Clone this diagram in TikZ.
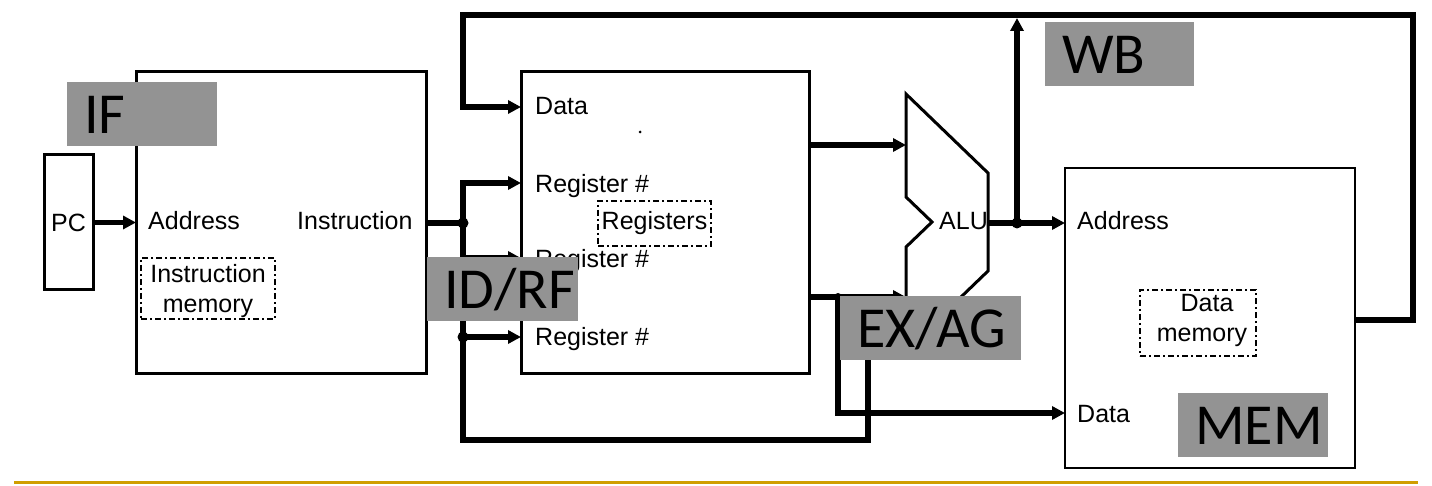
\documentclass[tikz,border=0pt]{standalone}
\usepackage{fontspec}
\setmainfont{Liberation Sans}
\newfontfamily\phasefont{Carlito}
\usetikzlibrary{arrows.meta}
\definecolor{phasegray}{RGB}{147,147,147}
\definecolor{rulegold}{RGB}{208,158,0}
\begin{document}
\begin{tikzpicture}[x=1pt,y=-1pt,
  wire/.style={line width=5.5pt},
  arr/.style={-{Triangle[length=13pt,width=13pt]}},
  blk/.style={draw, line width=3pt, inner sep=0pt, outer sep=0pt, anchor=north west},
  lbl/.style={font=\fontsize{25}{30}\selectfont, inner sep=0pt, anchor=base west},
  txt2/.style={font=\fontsize{25}{30}\selectfont, inner sep=0pt, align=center},
  memtag/.style={draw, line width=1.8pt, dash pattern=on 6pt off 3pt on 2pt off 3pt, inner sep=0pt},
  phase/.style={fill=phasegray, inner ysep=0pt, inner xsep=17pt, anchor=north west, align=left,
    text height=51pt, text depth=12pt, minimum height=64pt, font=\phasefont\fontsize{58}{62}\selectfont},
  dot/.style={circle, fill, inner sep=0pt, minimum size=11pt}]

\useasboundingbox (0,0) rectangle (1432,486);

% blocks
\node[blk, minimum width=49pt, minimum height=135pt, font=\fontsize{25}{30}\selectfont] (pc) at (44,155) {PC};
\node[blk, minimum width=290pt, minimum height=301pt] (imem) at (136,72) {};
\node[blk, minimum width=288pt, minimum height=301pt] (rf) at (521,72) {};
\node[blk, line width=2.5pt, minimum width=290pt, minimum height=300pt] (dm) at (1065,168) {};

% labels in instruction memory
\node[lbl] (ia) at (148,230) {Address};
\node[lbl] (ii) at (297,230) {Instruction};
\node[memtag, minimum width=134pt, minimum height=61pt] (imtag) at (208,288.5) {};
\node[txt2] (imtxt) at (208,290.7) {Instruction\\memory};

% labels in register file
\node[lbl] (rd) at (535,115) {Data};
\node[lbl] (rr1) at (535,193) {Register \#};
\node[lbl] (rr2) at (535,268) {Register \#};
\node[lbl] (rr3) at (535,345) {Register \#};
\node[memtag, minimum width=113pt, minimum height=45pt, font=\fontsize{25}{30}\selectfont] (regs) at (654.5,223.5) {Registers};
\node[circle, fill, inner sep=0pt, minimum size=3pt] (speck) at (640,132) {};

% ALU
\draw[line width=3pt, line join=miter] (906,94) -- (988,173) -- (988,271) -- (906,350)
  -- (906,247) -- (932,222) -- (906,197) -- cycle;
\node[lbl] (alulbl) at (939,230) {ALU};

% labels in data memory
\node[lbl] (da) at (1077,230) {Address};
\node[lbl] (dd) at (1077,422) {Data};
\node[memtag, minimum width=116pt, minimum height=66pt] (dmtag) at (1198,323) {};
\node[txt2] (dmtxt) at (1202,320.7) {\hspace*{10pt}Data\\memory};

% coordinates
\coordinate (jI) at (463,223);
\coordinate (busTop) at (463,183);
\coordinate (busBot) at (463,440);
\coordinate (exBot) at (868,440);
\coordinate (exTop) at (868,330);
\coordinate (jR2) at (463,258);
\coordinate (jR3) at (463,337);
\coordinate (fbR) at (1413,320);
\coordinate (fbTR) at (1413,15);
\coordinate (fbTL) at (463,15);
\coordinate (fbData) at (463,107);
\coordinate (aluIn1) at (906,145);
\coordinate (aluIn2) at (906,297);
\coordinate (jB) at (838,297);
\coordinate (jBd) at (838,413);
\coordinate (aluOut) at (988,223);
\coordinate (jW) at (1017,223);
\coordinate (wbTip) at (1017,18);

% wires
\draw[wire,arr] (pc.east) -- (pc.east -| imem.west);
\draw[wire] (imem.east |- jI) -- (jI);
\draw[wire,arr] (exTop) -- (exBot) -- (busBot) -- (busTop) -- (busTop -| rf.west);
\draw[wire,arr] (jR2) -- (jR2 -| rf.west);
\draw[wire,arr] (jR3) -- (jR3 -| rf.west);
\draw[wire,arr] (dm.east |- fbR) -- (fbR) -- (fbTR) -- (fbTL) -- (fbData) -- (fbData -| rf.west);
\draw[wire,arr] (rf.east |- aluIn1) -- (aluIn1);
\draw[wire,arr] (rf.east |- aluIn2) -- (aluIn2);
\draw[wire,arr] (jB) -- (jBd) -- (jBd -| dm.west);
\draw[wire,arr] (aluOut) -- (aluOut -| dm.west);
\draw[wire,arr] (jW) -- (wbTip);

% junction dots
\node[dot] (d1) at (jI) {};
\node[dot] (d2) at (jR3) {};
\node[dot, minimum size=8pt] (d3) at (jB) {};
\node[dot] (d4) at (jW) {};

% phase labels
\node[phase, text width=116pt] (ifp) at (67,82) {IF};
\node[phase, text width=117pt] (idp) at (427,257) {ID/RF};
\node[phase, text width=147pt] (exp) at (840,296) {EX/AG};
\node[phase, text width=115pt] (wbp) at (1045,22) {WB};
\node[phase, text width=116pt] (memp) at (1178,393) {MEM};

% bottom rule
\draw[rulegold, line width=3.5pt] (14,482.5) -- (1418,482.5);
\end{tikzpicture}
\end{document}
